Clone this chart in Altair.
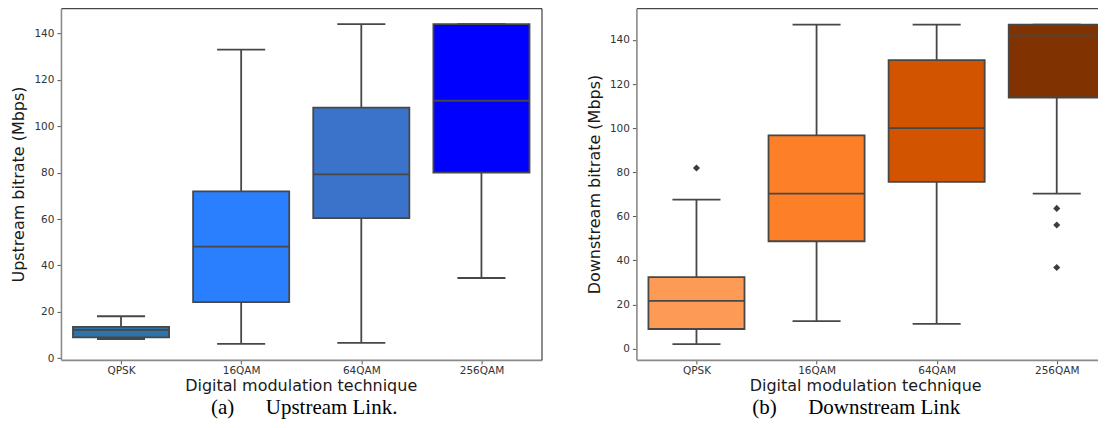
import json
import altair as alt
import pandas as pd

categories = ["QPSK", "16QAM", "64QAM", "256QAM"]

# Upstream link (a)
up_whisker_low = [8.3, 6.2, 6.6, 34.6]
up_q1 = [9.0, 24.2, 60.4, 80.0]
up_median = [12.2, 48.1, 79.3, 111.0]
up_q3 = [13.5, 71.9, 108.0, 144.0]
up_whisker_high = [18.1, 133.0, 144.0, 144.0]
up_colors = ["#2f74a8", "#2a7fff", "#3a73c9", "#0000ff"]

# Downstream link (b)
down_whisker_low = [2.0, 12.5, 11.2, 70.3]
down_q1 = [8.9, 48.7, 75.6, 113.9]
down_median = [21.7, 70.3, 100.0, 142.1]
down_q3 = [32.4, 96.7, 130.8, 146.9]
down_whisker_high = [67.6, 146.9, 146.9, 146.9]
down_colors = ["#fd9a55", "#fd8028", "#d35400", "#803300"]

down_outlier_cat = ["QPSK", "256QAM", "256QAM", "256QAM"]
down_outlier_val = [81.9, 63.6, 56.1, 36.8]

y_ticks = [0, 20, 40, 60, 80, 100, 120, 140]

LINE = "#474747"
LW = 1.8
FONT = "DejaVu Sans"
XTITLE = "Digital modulation technique"
label_expr = json.dumps(categories) + "[datum.value]"


def box_frame(wlo, q1, med, q3, whi):
    rows = []
    for i, c in enumerate(categories):
        rows.append(dict(cat=c, idx=i, lo=i - 0.4, hi=i + 0.4, clo=i - 0.2, chi=i + 0.2,
                         wlo=wlo[i], q1=q1[i], med=med[i], q3=q3[i], whi=whi[i]))
    return pd.DataFrame(rows)


def spine(orient):
    return alt.Axis(orient=orient, labels=False, ticks=False, title=None, grid=False,
                    domain=True, domainColor="#1a1a1a", domainWidth=1)


def panel(df, colors, ytitle, ydomain, xdomain, width, caption, cap_dx, xtitle_x,
          right_spine, out_df=None):
    xs = alt.Scale(domain=xdomain, nice=False, zero=False)
    ys = alt.Scale(domain=ydomain, nice=False, zero=False)
    x_axis = alt.Axis(values=[0, 1, 2, 3], labelExpr=label_expr, title=XTITLE, titleX=xtitle_x)
    y_axis = alt.Axis(values=y_ticks, title=ytitle)
    base = alt.Chart(df)
    whisk = base.mark_rule(color=LINE, strokeWidth=LW, clip=True).encode(
        x=alt.X("idx:Q", scale=xs, axis=x_axis),
        y=alt.Y("wlo:Q", scale=ys, axis=y_axis),
        y2="whi:Q",
    )
    box = base.mark_rect(stroke=LINE, strokeWidth=LW, clip=True).encode(
        x=alt.X("lo:Q", scale=xs, axis=None),
        x2="hi:Q",
        y=alt.Y("q1:Q", scale=ys, axis=None),
        y2="q3:Q",
        color=alt.Color("cat:N", scale=alt.Scale(domain=categories, range=colors), legend=None),
    )
    med = base.mark_rule(color=LINE, strokeWidth=LW, clip=True).encode(
        x=alt.X("lo:Q", scale=xs, axis=None), x2="hi:Q",
        y=alt.Y("med:Q", scale=ys, axis=None),
    )
    cap_lo = base.mark_rule(color=LINE, strokeWidth=LW, clip=True).encode(
        x=alt.X("clo:Q", scale=xs, axis=None), x2="chi:Q",
        y=alt.Y("wlo:Q", scale=ys, axis=None),
    )
    cap_hi = base.mark_rule(color=LINE, strokeWidth=LW, clip=True).encode(
        x=alt.X("clo:Q", scale=xs, axis=spine("top")), x2="chi:Q",
        y=alt.Y("whi:Q", scale=ys, axis=spine("right") if right_spine else None),
    )
    layers = [whisk, box, med, cap_lo, cap_hi]
    if out_df is not None:
        pts = alt.Chart(out_df).mark_point(shape="diamond", filled=True, color="#3d3d3d",
                                           size=50, opacity=1, clip=True).encode(
            x=alt.X("idx:Q", scale=xs, axis=None),
            y=alt.Y("val:Q", scale=ys, axis=None),
        )
        layers.append(pts)
    return alt.layer(*layers).resolve_axis(x="independent", y="independent").properties(
        width=width, height=352,
        title=alt.TitleParams(caption, orient="bottom", anchor="middle", font="Liberation Serif",
                              fontSize=21, fontWeight="normal", color="#000000", offset=4, dx=cap_dx),
    )


up_df = box_frame(up_whisker_low, up_q1, up_median, up_q3, up_whisker_high)
down_df = box_frame(down_whisker_low, down_q1, down_median, down_q3, down_whisker_high)
out_df = pd.DataFrame({"idx": [categories.index(c) for c in down_outlier_cat], "val": down_outlier_val})

NB = "\u00a0"
RIGHT_W = 462
left = panel(up_df, up_colors, "Upstream bitrate (Mbps)", [-0.7, 150.9], [-0.5, 3.5], 481,
             "(a)" + NB * 6 + "Upstream Link.", 3, 240, True)
right = panel(down_df, down_colors, "Downstream bitrate (Mbps)", [-5.1, 154.4],
              [-0.5, -0.5 + RIGHT_W / 120.2], RIGHT_W, "(b)" + NB * 6 + "Downstream Link", -11, 229,
              False, out_df)

chart = alt.hconcat(left, right, spacing=95, bounds="flush").resolve_scale(
    color="independent"
).properties(
    padding={"left": 2, "top": 0, "right": 0, "bottom": 0}
).configure_view(stroke=None).configure_axis(
    grid=False, domainColor="#8a8a8a", domainWidth=1.6, tickColor="#555555", tickSize=4,
    tickWidth=1, labelFont=FONT, labelFontSize=10.5, labelColor="#333333", labelPadding=3,
    titleFont=FONT, titleFontSize=16, titleFontWeight="normal", titleColor="#1a1a1a",
).configure_axisY(titlePadding=7).configure_axisX(titlePadding=1, labelPadding=2).configure_concat(spacing=95)

chart.save("out.html", embed_options={"renderer": "svg", "actions": False})
